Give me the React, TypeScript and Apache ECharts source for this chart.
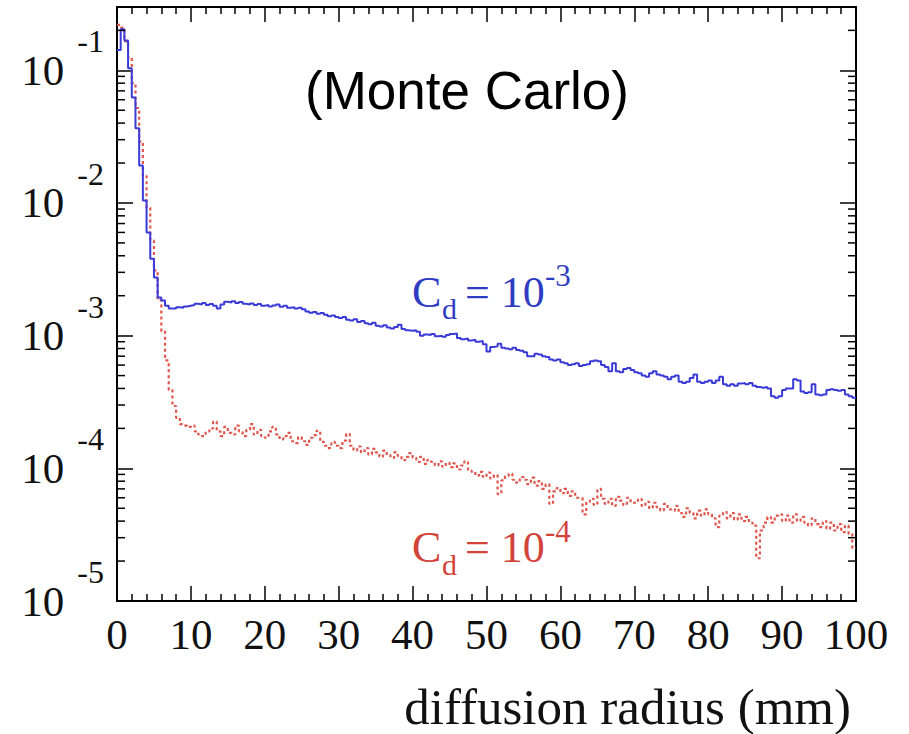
import React, { useEffect, useRef } from "react";
import * as echarts from "echarts";

// ---- data ----
const BIN_WIDTH = 0.5; // mm per histogram bin
const X_MIN = 0;
const X_MAX = 100;
const X_STEP = 10;
const Y_MIN = 1e-5;
const Y_MAX = 0.3;
const LOG_DECADES = [-5, -4, -3, -2, -1];
const MINOR_MANTISSAS = [2, 3, 4, 5, 6, 7, 8, 9];

// C_d = 10^-3 (blue, solid)
const blueCd3 = [
  0.142, 0.204, 0.168, 0.1035, 0.0625, 0.0365, 0.0192, 0.01045, 0.006, 0.0038, 0.00274, 0.00194, 0.00184,
  1.68e-3, 1.6e-3, 1.6e-3, 1.64e-3, 1.62e-3, 1.66e-3, 1.68e-3,
  1.7e-3, 1.74e-3, 1.72e-3, 1.76e-3, 1.7e-3, 1.73e-3, 1.68e-3, 1.6e-3, 1.72e-3, 1.8e-3,
  1.78e-3, 1.82e-3, 1.76e-3, 1.79e-3, 1.74e-3, 1.72e-3, 1.75e-3, 1.7e-3, 1.73e-3, 1.68e-3,
  1.7e-3, 1.66e-3, 1.69e-3, 1.72e-3, 1.65e-3, 1.68e-3, 1.62e-3, 1.64e-3, 1.6e-3, 1.62e-3,
  1.58e-3, 1.52e-3, 1.49e-3, 1.51e-3, 1.46e-3, 1.48e-3, 1.44e-3, 1.4e-3, 1.42e-3, 1.38e-3,
  1.36e-3, 1.38e-3, 1.32e-3, 1.3e-3, 1.33e-3, 1.27e-3, 1.29e-3, 1.24e-3, 1.22e-3, 1.25e-3,
  1.19e-3, 1.17e-3, 1.2e-3, 1.15e-3, 1.13e-3, 1.16e-3, 1.21e-3, 1.12e-3, 1.1e-3, 1.09e-3,
  1.1e-3, 1.07e-3, 1.0e-3, 1.02e-3, 1.01e-3, 1.03e-3, 0.99e-3, 1.0e-3, 0.98e-3, 1.01e-3,
  1.03e-3, 1.04e-3, 0.96e-3, 0.94e-3, 0.95e-3, 0.92e-3, 0.93e-3, 0.9e-3, 0.91e-3, 0.86e-3,
  7.6e-4, 8.2e-4, 8.3e-4, 8.7e-4, 8.1e-4, 8.0e-4, 7.9e-4, 8.1e-4, 7.8e-4, 7.7e-4,
  7.5e-4, 7.0e-4, 7.0e-4, 7.3e-4, 7.2e-4, 7.0e-4, 6.9e-4, 6.6e-4, 6.5e-4, 6.6e-4,
  6.3e-4, 6.2e-4, 6.0e-4, 6.1e-4, 6.2e-4, 5.9e-4, 6.0e-4, 6.1e-4, 6.4e-4, 6.5e-4,
  6.4e-4, 6.0e-4, 5.8e-4, 5.4e-4, 6.2e-4, 5.4e-4, 5.3e-4, 5.6e-4, 5.7e-4, 5.5e-4,
  5.3e-4, 5.2e-4, 5.0e-4, 4.9e-4, 5.2e-4, 5.4e-4, 5.1e-4, 5.0e-4, 4.9e-4, 4.7e-4,
  4.9e-4, 5.0e-4, 4.5e-4, 4.4e-4, 4.5e-4, 4.8e-4, 5.1e-4, 4.5e-4, 4.4e-4, 4.5e-4,
  4.6e-4, 4.4e-4, 4.6e-4, 4.9e-4, 4.3e-4, 4.2e-4, 4.3e-4, 4.2e-4, 4.35e-4, 4.4e-4,
  4.3e-4, 4.4e-4, 4.2e-4, 4.1e-4, 4.05e-4, 4.1e-4, 4.0e-4, 3.5e-4, 3.4e-4, 3.5e-4,
  3.9e-4, 4.0e-4, 4.0e-4, 4.7e-4, 4.6e-4, 3.8e-4, 3.7e-4, 3.75e-4, 4.3e-4, 3.6e-4,
  3.55e-4, 3.6e-4, 3.9e-4, 3.95e-4, 3.9e-4, 3.85e-4, 3.9e-4, 3.6e-4, 3.5e-4, 3.4e-4,
];

// C_d = 10^-4 (red, dotted)
const redCd4 = [
  0.22, 0.21, 0.165, 0.125, 0.08, 0.052, 0.029, 0.016, 0.0092, 0.0052, 0.0031, 0.00185, 0.00108, 6.5e-4, 3.9e-4, 2.95e-4, 2.4e-4,
  2.15e-4, 2.1e-4, 2.05e-4,
  2.1e-4, 1.9e-4, 1.8e-4, 1.75e-4, 1.9e-4, 2.0e-4, 2.25e-4, 1.9e-4, 1.75e-4, 2.05e-4,
  1.85e-4, 1.8e-4, 2.1e-4, 1.9e-4, 1.75e-4, 1.95e-4, 2.15e-4, 1.8e-4, 1.95e-4, 1.75e-4,
  1.7e-4, 1.9e-4, 2.05e-4, 1.8e-4, 1.65e-4, 1.75e-4, 1.85e-4, 1.6e-4, 1.55e-4, 1.72e-4,
  1.6e-4, 1.5e-4, 1.7e-4, 1.78e-4, 1.92e-4, 1.58e-4, 1.48e-4, 1.42e-4, 1.58e-4, 1.48e-4,
  1.42e-4, 1.62e-4, 1.82e-4, 1.48e-4, 1.36e-4, 1.46e-4, 1.32e-4, 1.42e-4, 1.27e-4, 1.4e-4,
  1.32e-4, 1.22e-4, 1.36e-4, 1.26e-4, 1.2e-4, 1.32e-4, 1.24e-4, 1.15e-4, 1.22e-4, 1.3e-4,
  1.2e-4, 1.12e-4, 1.22e-4, 1.08e-4, 1.16e-4, 1.12e-4, 1.05e-4, 1.13e-4, 1.03e-4, 1.1e-4,
  1.02e-4, 1.09e-4, 0.98e-4, 1.05e-4, 1.13e-4, 9.6e-5, 9.4e-5, 8.8e-5, 9.4e-5, 8.6e-5,
  9.3e-5, 8.4e-5, 8.9e-5, 6.4e-5, 8.1e-5, 8.7e-5, 9.1e-5, 8.2e-5, 7.8e-5, 8.6e-5,
  8.2e-5, 7.6e-5, 8.5e-5, 7.4e-5, 8.0e-5, 7.0e-5, 7.6e-5, 5.4e-5, 6.7e-5, 7.1e-5,
  6.5e-5, 7.0e-5, 6.2e-5, 6.7e-5, 6.0e-5, 6.0e-5, 4.5e-5, 5.6e-5, 5.9e-5, 5.3e-5,
  7.0e-5, 5.9e-5, 5.4e-5, 5.9e-5, 5.2e-5, 6.1e-5, 5.7e-5, 5.3e-5, 6.0e-5, 5.5e-5,
  5.5e-5, 5.9e-5, 5.2e-5, 5.6e-5, 5.0e-5, 5.5e-5, 5.1e-5, 4.8e-5, 5.4e-5, 4.9e-5,
  4.8e-5, 5.2e-5, 4.6e-5, 4.3e-5, 5.0e-5, 4.6e-5, 4.2e-5, 4.8e-5, 4.4e-5, 4.9e-5,
  4.5e-5, 4.2e-5, 3.6e-5, 4.4e-5, 4.7e-5, 4.2e-5, 4.6e-5, 4.1e-5, 4.5e-5, 4.0e-5,
  4.3e-5, 3.9e-5, 3.7e-5, 2.1e-5, 3.4e-5, 3.9e-5, 4.3e-5, 3.9e-5, 4.4e-5, 4.5e-5,
  4.0e-5, 4.4e-5, 3.9e-5, 4.5e-5, 4.0e-5, 4.3e-5, 3.9e-5, 3.7e-5, 4.2e-5, 3.8e-5,
  3.6e-5, 4.0e-5, 3.5e-5, 3.9e-5, 3.4e-5, 3.8e-5, 3.3e-5, 3.7e-5, 3.2e-5, 2.5e-5,
];

const TITLE_TEXT = "(Monte Carlo)";
const X_TITLE = "diffusion radius (mm)";

// ---- helpers ----
function toSteps(vals: number[]): number[][] {
  const pts = vals.map((v, i) => [i * BIN_WIDTH, v]);
  pts.push([vals.length * BIN_WIDTH, vals[vals.length - 1]]);
  return pts;
}

const minorTickValues = LOG_DECADES.flatMap((d) =>
  MINOR_MANTISSAS.map((m) => m * Math.pow(10, d))
).filter((v) => v < Y_MAX);

const SERIF = "'Liberation Serif', 'DejaVu Serif', serif";
const SANS = "'Liberation Sans', Arial, sans-serif";
const BLUE_LINE = "#3a3ad8";
const RED_LINE = "#e0554c";
const BLUE_TEXT = "#2f3cc2";
const RED_TEXT = "#d2433a";

function decadeLabel(v: number): string {
  const l = Math.log10(v);
  const e = Math.round(l);
  if (Math.abs(l - e) > 1e-6) return "";
  return `{b|10}{e|${e}}`;
}

function txt(text: string, x: number, y: number, size: number, color: string, family: string, align = "left") {
  return {
    type: "text",
    x,
    y,
    silent: true,
    style: {
      text,
      fill: color,
      font: `${size}px ${family}`,
      fontSize: size,
      fontFamily: family,
      align,
      verticalAlign: "middle",
      textAlign: align,
      textVerticalAlign: "middle",
    },
  };
}

const frameLine = { show: true, onZero: false, lineStyle: { color: "#000", width: 2 } };
const tickStyle = { color: "#000", width: 1.5 };

function buildOption(): any {
  const xBase = {
    type: "value",
    min: X_MIN,
    max: X_MAX,
    interval: X_STEP,
    axisLine: frameLine,
    axisTick: { show: true, inside: true, length: 15, lineStyle: tickStyle },
    minorTick: { show: true, splitNumber: 5, length: 7, lineStyle: tickStyle },
    splitLine: { show: false },
    minorSplitLine: { show: false },
  };
  const yBase = {
    type: "log",
    logBase: 10,
    min: Y_MIN,
    max: Y_MAX,
    axisLine: frameLine,
    axisTick: { show: true, inside: true, length: 16, lineStyle: tickStyle },
    splitLine: { show: false },
  };
  return {
    animation: false,
    backgroundColor: "#fff",
    grid: { left: 117, right: 53, top: 7, bottom: 133, containLabel: false, outerBoundsMode: "none" },
    xAxis: [
      {
        ...xBase,
        position: "bottom",
        axisLabel: { show: true, margin: 12, fontSize: 43, fontFamily: SERIF, color: "#111" },
      },
      { ...xBase, position: "top", axisLabel: { show: false } },
    ],
    yAxis: [
      {
        ...yBase,
        position: "left",
        axisLabel: {
          show: true,
          margin: 13,
          formatter: decadeLabel,
          rich: {
            b: { fontSize: 43, fontFamily: SERIF, color: "#111", lineHeight: 90, verticalAlign: "middle" },
            e: { fontSize: 32, fontFamily: SERIF, color: "#111", lineHeight: 20, verticalAlign: "top", padding: [0, 0, 0, 13] },
          },
        },
      },
      { ...yBase, position: "right", axisLabel: { show: false } },
    ],
    series: [
      {
        type: "custom",
        name: "minor log ticks",
        silent: true,
        xAxisIndex: 0,
        yAxisIndex: 0,
        data: minorTickValues.map((v) => [X_MIN, v]),
        renderItem: (params: any, api: any) => {
          const cs = params.coordSys;
          const y = api.coord([X_MIN, api.value(1)])[1];
          const st = { stroke: "#000", lineWidth: 1.5 };
          return {
            type: "group",
            children: [
              { type: "line", shape: { x1: cs.x, y1: y, x2: cs.x + 8, y2: y }, style: st },
              { type: "line", shape: { x1: cs.x + cs.width - 8, y1: y, x2: cs.x + cs.width, y2: y }, style: st },
            ],
          };
        },
        z: 5,
      },
      {
        type: "line",
        name: "Cd = 1e-4",
        data: toSteps(redCd4),
        step: "end",
        symbol: "none",
        showSymbol: false,
        lineStyle: { color: RED_LINE, width: 2.2, type: [3, 3] },
        z: 2,
      },
      {
        type: "line",
        name: "Cd = 1e-3",
        data: toSteps(blueCd3),
        step: "end",
        symbol: "none",
        showSymbol: false,
        lineStyle: { color: BLUE_LINE, width: 2 },
        z: 3,
      },
    ],
    graphic: [
      txt(TITLE_TEXT, 467, 90, 53, "#000", SANS, "center"),
      // C_d = 10^-3
      txt("C", 412, 292.5, 44, BLUE_TEXT, SERIF),
      txt("d", 442, 308, 30, BLUE_TEXT, SERIF),
      txt("= 10", 465, 292.5, 44, BLUE_TEXT, SERIF),
      txt("-3", 545, 275, 31, BLUE_TEXT, SERIF),
      // C_d = 10^-4
      txt("C", 412, 547.5, 44, RED_TEXT, SERIF),
      txt("d", 442, 564, 30, RED_TEXT, SERIF),
      txt("= 10", 465, 547.5, 44, RED_TEXT, SERIF),
      txt("-4", 545, 531.5, 31, RED_TEXT, SERIF),
      txt(X_TITLE, 851, 707, 51, "#111", SERIF, "right"),
    ],
  };
}

export default function App() {
  const ref = useRef<HTMLDivElement>(null);
  useEffect(() => {
    if (!ref.current) return;
    const chart = echarts.init(ref.current, null, { renderer: "svg" });
    chart.setOption(buildOption());
    return () => chart.dispose();
  }, []);
  return (
    <div
      ref={ref}
      style={{ position: "fixed", left: 0, top: 0, width: 909, height: 734, background: "#fff" }}
    />
  );
}
